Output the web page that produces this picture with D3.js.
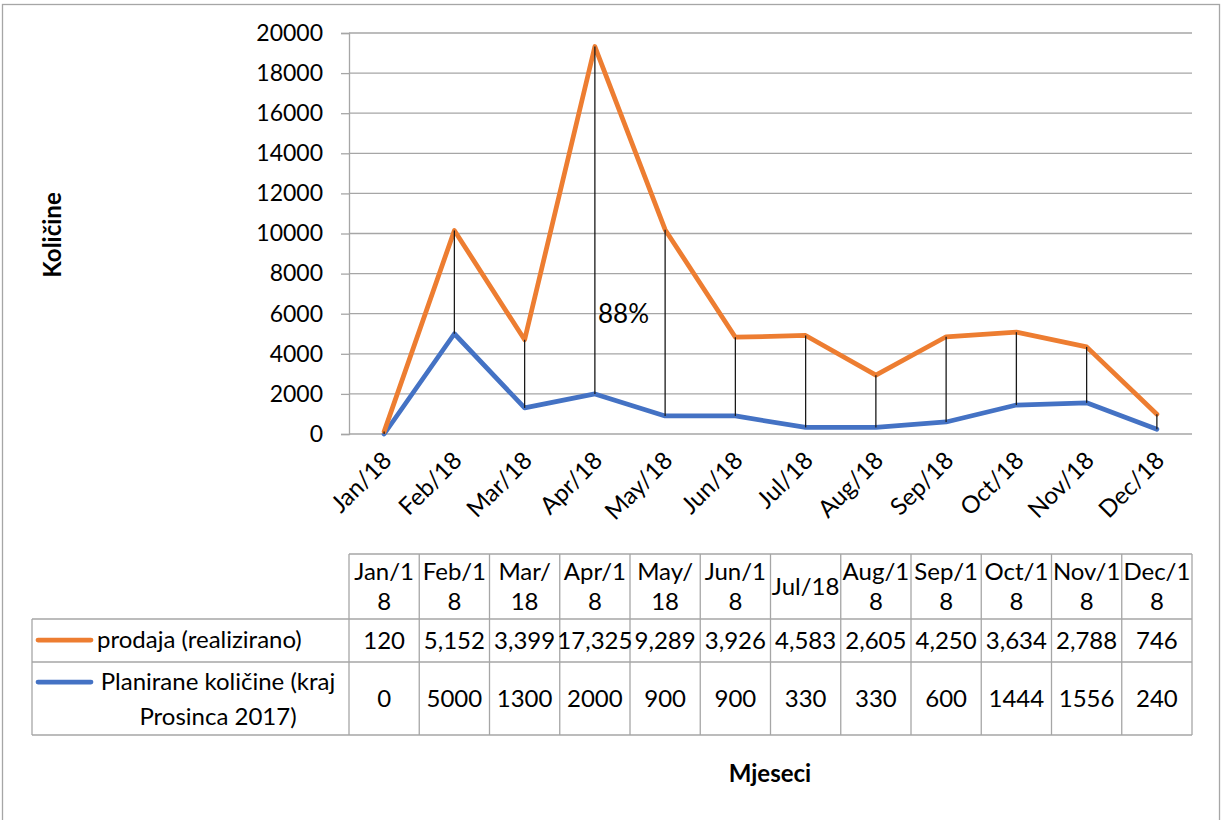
<!DOCTYPE html>
<html>
<head>
<meta charset="utf-8">
<script src="https://cdn.jsdelivr.net/npm/d3@7"></script>
<style>
  body { margin: 0; background: #fff; }
  text { font-family: Lato, "Open Sans", sans-serif; fill: #000; }
</style>
</head>
<body>
<script>
// chart data
var months = ["Jan/18", "Feb/18", "Mar/18", "Apr/18", "May/18", "Jun/18",
              "Jul/18", "Aug/18", "Sep/18", "Oct/18", "Nov/18", "Dec/18"];
var headerLines = [["Jan/1", "8"], ["Feb/1", "8"], ["Mar/", "18"], ["Apr/1", "8"],
                   ["May/", "18"], ["Jun/1", "8"], ["Jul/18"], ["Aug/1", "8"],
                   ["Sep/1", "8"], ["Oct/1", "8"], ["Nov/1", "8"], ["Dec/1", "8"]];
var prodaja = [120, 5152, 3399, 17325, 9289, 3926, 4583, 2605, 4250, 3634, 2788, 746];
var planirane = [0, 5000, 1300, 2000, 900, 900, 330, 330, 600, 1444, 1556, 240];
var yTicks = [0, 2000, 4000, 6000, 8000, 10000, 12000, 14000, 16000, 18000, 20000];
var seriesNames = ["prodaja (realizirano)", "Planirane količine (kraj|Prosinca 2017)"];
var pctLabel = "88%";

var colors = { prodaja: "#ED7D31", planirane: "#4472C4" };
var grid = "#a6a6a6";

var W = 1225, H = 820;
var pLeft = 349, pRight = 1192, pTop = 33, pBottom = 434;

var svg = d3.select("body").append("svg")
    .attr("width", W)
    .attr("height", H);

// outer frame
svg.append("rect")
    .attr("x", 2.5).attr("y", 4.5)
    .attr("width", 1217).attr("height", 830)
    .attr("fill", "none").attr("stroke", grid).attr("stroke-width", 1.3);

var x = d3.scaleBand().domain(months).range([pLeft, pRight]);
var y = d3.scaleLinear().domain([0, 20000]).range([pBottom, pTop]);

// stacked series: blue at bottom, orange on top
var rows = months.map(function (m, i) { return { m: m, planirane: planirane[i], prodaja: prodaja[i] }; });
var stacked = d3.stack().keys(["planirane", "prodaja"])(rows);

// gridlines
svg.append("g").selectAll("line")
    .data(yTicks)
    .enter().append("line")
    .attr("x1", pLeft).attr("x2", pRight)
    .attr("y1", function (d) { return y(d); })
    .attr("y2", function (d) { return y(d); })
    .attr("stroke", grid).attr("stroke-width", 1.3);

// y axis
var yAxis = svg.append("g")
    .attr("transform", "translate(" + pLeft + ",0)")
    .call(d3.axisLeft(y).tickValues(yTicks).tickSize(8).tickFormat(d3.format("d")));
yAxis.select(".domain").attr("stroke", grid).attr("stroke-width", 1.3);
yAxis.selectAll(".tick line").attr("stroke", grid).attr("stroke-width", 1.3);
yAxis.selectAll(".tick text")
    .attr("x", -26)
    .style("font-size", "23px")
    .style("font-family", "Lato, sans-serif")
    .attr("fill", "#000");

// x axis labels
svg.append("g").selectAll("text")
    .data(months)
    .enter().append("text")
    .attr("text-anchor", "end")
    .attr("transform", function (d) {
        return "translate(" + (x(d) + x.bandwidth() / 2 + 9) + "," + 462 + ") rotate(-45)";
    })
    .style("font-size", "24px")
    .text(function (d) { return d; });

var cx = function (d) { return x(d.data.m) + x.bandwidth() / 2; };

var line = d3.line()
    .x(cx)
    .y(function (d) { return y(d[1]); });

svg.append("g").selectAll("path")
    .data(stacked)
    .enter().append("path")
    .attr("d", line)
    .attr("fill", "none")
    .attr("stroke", function (s) { return colors[s.key]; })
    .attr("stroke-width", 4.75)
    .attr("stroke-linejoin", "round")
    .attr("stroke-linecap", "round");

// high-low lines
svg.append("g").selectAll("line")
    .data(stacked[1])
    .enter().append("line")
    .attr("x1", cx).attr("x2", cx)
    .attr("y1", function (d) { return y(d[0]); })
    .attr("y2", function (d) { return y(d[1]); })
    .attr("stroke", "#1a1a1a").attr("stroke-width", 1.3);

// label
svg.append("text")
    .attr("x", 598).attr("y", 323)
    .style("font-size", "26px")
    .text(pctLabel);

// axis titles
svg.append("text")
    .attr("transform", "translate(61,235) rotate(-90)")
    .attr("text-anchor", "middle")
    .style("font-size", "24px").style("font-weight", "bold")
    .text("Količine");

svg.append("text")
    .attr("x", 770).attr("y", 782)
    .attr("text-anchor", "middle")
    .style("font-size", "24px").style("font-weight", "bold")
    .text("Mjeseci");

// data table
var tTop = 554, tH1 = 619, tH2 = 662, tBot = 735, tLeft = 32;
var tbl = svg.append("g");
var bw = x.bandwidth();

// borders
tbl.append("line").attr("x1", pLeft).attr("x2", pRight).attr("y1", tTop).attr("y2", tTop);
[tH1, tH2, tBot].forEach(function (yy) {
    tbl.append("line").attr("x1", tLeft).attr("x2", pRight).attr("y1", yy).attr("y2", yy);
});
tbl.append("line").attr("x1", tLeft).attr("x2", tLeft).attr("y1", tH1).attr("y2", tBot);
months.forEach(function (m) {
    tbl.append("line").attr("x1", x(m)).attr("x2", x(m)).attr("y1", tTop).attr("y2", tBot);
});
tbl.append("line").attr("x1", pRight).attr("x2", pRight).attr("y1", tTop).attr("y2", tBot);
tbl.selectAll("line").attr("stroke", grid).attr("stroke-width", 1.3);

// header cells
tbl.append("g").selectAll("text")
    .data(months)
    .enter().append("text")
    .attr("text-anchor", "middle")
    .style("font-size", "24px")
    .each(function (m, i) {
        var lines = headerLines[i];
        var mid = (tTop + tH1) / 2;
        var t = d3.select(this);
        lines.forEach(function (l, j) {
            t.append("tspan")
                .attr("x", x(m) + bw / 2)
                .attr("y", mid + 8 + (j - (lines.length - 1) / 2) * 30)
                .text(l);
        });
    });

// value rows
var fmtComma = d3.format(",");
tbl.append("g").selectAll("text")
    .data(prodaja)
    .enter().append("text")
    .attr("text-anchor", "middle")
    .attr("x", function (d, i) { return x(months[i]) + bw / 2; })
    .attr("y", (tH1 + tH2) / 2 + 8)
    .style("font-size", "24px")
    .text(function (d) { return fmtComma(d); });

tbl.append("g").selectAll("text")
    .data(planirane)
    .enter().append("text")
    .attr("text-anchor", "middle")
    .attr("x", function (d, i) { return x(months[i]) + bw / 2; })
    .attr("y", (tH2 + tBot) / 2 + 8)
    .style("font-size", "24px")
    .text(function (d) { return d; });

// legend keys
tbl.append("line")
    .attr("x1", 38).attr("x2", 91).attr("y1", 640).attr("y2", 640)
    .attr("stroke", colors.prodaja).attr("stroke-width", 4.75).attr("stroke-linecap", "round");
tbl.append("line")
    .attr("x1", 38).attr("x2", 91).attr("y1", 682).attr("y2", 682)
    .attr("stroke", colors.planirane).attr("stroke-width", 4.75).attr("stroke-linecap", "round");

tbl.append("text")
    .attr("x", 97).attr("y", 648)
    .style("font-size", "24px")
    .text(seriesNames[0]);

var lg = tbl.append("text").attr("text-anchor", "middle").style("font-size", "24px");
seriesNames[1].split("|").forEach(function (l, j) {
    lg.append("tspan").attr("x", 218).attr("y", 690 + j * 35).text(l);
});
</script>
</body>
</html>
